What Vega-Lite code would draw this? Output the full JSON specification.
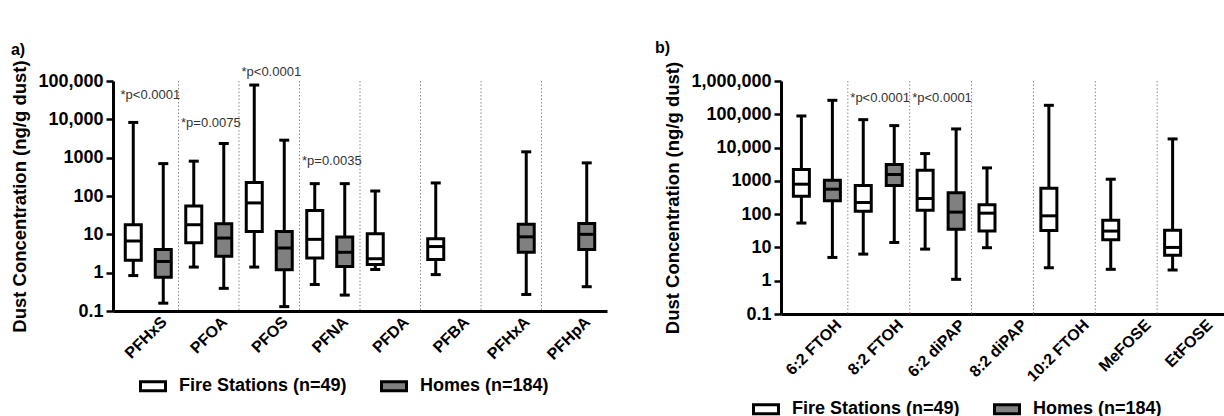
{
  "$schema": "https://vega.github.io/schema/vega-lite/v6.json",
  "background": "white",
  "padding": {"left": 10, "top": 40, "right": 0, "bottom": 0},
  "spacing": 47,
  "config": {
    "font": "Liberation Sans",
    "view": {"stroke": null},
    "axis": {"domainColor": "black", "tickColor": "black", "labelColor": "black", "titleColor": "black", "grid": false},
    "legend": {"labelColor": "black", "labelLimit": 0}
  },
  "resolve": {"legend": {"fill": "independent"}, "scale": {"x": "independent", "y": "independent", "xOffset": "independent"}},
  "datasets": {
    "boxA": [
      {"compound": "PFHxS", "group": "Fire Stations", "min": 0.84, "q1": 2.1, "median": 6.7, "q3": 17.8, "max": 8300},
      {"compound": "PFHxS", "group": "Homes", "min": 0.16, "q1": 0.76, "median": 1.96, "q3": 4.0, "max": 700},
      {"compound": "PFOA", "group": "Fire Stations", "min": 1.4, "q1": 6.0, "median": 17.8, "q3": 55, "max": 810},
      {"compound": "PFOA", "group": "Homes", "min": 0.39, "q1": 2.7, "median": 8.0, "q3": 18.9, "max": 2340},
      {"compound": "PFOS", "group": "Fire Stations", "min": 1.4, "q1": 11.9, "median": 66, "q3": 224, "max": 78500},
      {"compound": "PFOS", "group": "Homes", "min": 0.13, "q1": 1.19, "median": 4.4, "q3": 11.9, "max": 2860},
      {"compound": "PFNA", "group": "Fire Stations", "min": 0.49, "q1": 2.4, "median": 7.4, "q3": 42, "max": 210},
      {"compound": "PFNA", "group": "Homes", "min": 0.26, "q1": 1.45, "median": 3.4, "q3": 8.5, "max": 210},
      {"compound": "PFDA", "group": "Fire Stations", "min": 1.21, "q1": 1.64, "median": 2.3, "q3": 10.4, "max": 135},
      {"compound": "PFBA", "group": "Fire Stations", "min": 0.89, "q1": 2.2, "median": 4.8, "q3": 7.7, "max": 219},
      {"compound": "PFHxA", "group": "Homes", "min": 0.27, "q1": 3.4, "median": 8.6, "q3": 18.2, "max": 1420},
      {"compound": "PFHpA", "group": "Homes", "min": 0.43, "q1": 4.0, "median": 10, "q3": 19.3, "max": 731}
    ],
    "sepA": [
      {"compound": "PFOA"}, {"compound": "PFOS"}, {"compound": "PFNA"}, {"compound": "PFDA"},
      {"compound": "PFBA"}, {"compound": "PFHxA"}, {"compound": "PFHpA"}
    ],
    "annA": [
      {"compound": "PFHxS", "label": "*p<0.0001", "y": 43000},
      {"compound": "PFOA", "label": "*p=0.0075", "y": 8100},
      {"compound": "PFOS", "label": "*p<0.0001", "y": 172000},
      {"compound": "PFNA", "label": "*p=0.0035", "y": 805}
    ],
    "boxB": [
      {"compound": "6:2 FTOH", "group": "Fire Stations", "min": 54, "q1": 347, "median": 794, "q3": 2190, "max": 89000},
      {"compound": "6:2 FTOH", "group": "Homes", "min": 5.0, "q1": 251, "median": 562, "q3": 1047, "max": 263000},
      {"compound": "8:2 FTOH", "group": "Fire Stations", "min": 6.3, "q1": 123, "median": 224, "q3": 724, "max": 69000},
      {"compound": "8:2 FTOH", "group": "Homes", "min": 14.1, "q1": 724, "median": 1550, "q3": 3090, "max": 45700},
      {"compound": "6:2 diPAP", "group": "Fire Stations", "min": 8.9, "q1": 132, "median": 295, "q3": 2090, "max": 6600},
      {"compound": "6:2 diPAP", "group": "Homes", "min": 1.1, "q1": 35, "median": 115, "q3": 437, "max": 36300},
      {"compound": "8:2 diPAP", "group": "Fire Stations", "min": 9.8, "q1": 31, "median": 107, "q3": 191, "max": 2450},
      {"compound": "10:2 FTOH", "group": "Fire Stations", "min": 2.45, "q1": 32, "median": 89, "q3": 603, "max": 186000},
      {"compound": "MeFOSE", "group": "Fire Stations", "min": 2.2, "q1": 17, "median": 31, "q3": 66, "max": 1120},
      {"compound": "EtFOSE", "group": "Fire Stations", "min": 2.1, "q1": 5.8, "median": 10, "q3": 33, "max": 18200}
    ],
    "sepB": [
      {"compound": "8:2 FTOH"}, {"compound": "6:2 diPAP"}, {"compound": "8:2 diPAP"},
      {"compound": "10:2 FTOH"}, {"compound": "MeFOSE"}, {"compound": "EtFOSE"}
    ],
    "annB": [
      {"compound": "8:2 FTOH", "label": "*p<0.0001", "y": 316000},
      {"compound": "6:2 diPAP", "label": "*p<0.0001", "y": 316000}
    ]
  },
  "hconcat": [
    {
      "title": {"text": "a)", "anchor": "start", "fontSize": 16, "fontWeight": "bold", "offset": 2, "color": "black"},
      "width": 494,
      "height": 230,
      "layer": [
        {
          "data": {"name": "sepA"},
          "mark": {"type": "rule", "strokeDash": [1.5, 2], "color": "#8a8a8a", "strokeWidth": 1},
          "encoding": {
            "x": {"field": "compound", "type": "nominal", "bandPosition": 0, "title": null,
                  "scale": {"domain": ["PFHxS","PFOA","PFOS","PFNA","PFDA","PFBA","PFHxA","PFHpA"], "paddingInner": 0, "paddingOuter": 0.083}}
          }
        },
        {
          "data": {"name": "boxA"},
          "mark": {"type": "rule", "color": "black", "strokeWidth": 3},
          "encoding": {
            "x": {"field": "compound", "type": "nominal", "title": null},
            "xOffset": {"field": "group", "type": "nominal", "scale": {"domain": ["Fire Stations", "Homes"], "paddingInner": 0.4667, "paddingOuter": 0.2417}},
            "y": {"field": "min", "type": "quantitative", "title": "Dust Concentration (ng/g dust)",
                  "scale": {"type": "log", "domain": [0.1, 100000], "nice": false},
                  "axis": {"values": [0.1, 1, 10, 100, 1000, 10000, 100000],
                           "labelExpr": "datum.value >= 10000 ? format(datum.value, ',') : format(datum.value, '~g')",
                           "labelFontSize": 18, "labelFontWeight": "bold", "labelPadding": 3,
                           "tickSize": 7, "tickWidth": 2.5, "domainWidth": 3,
                           "titleFontSize": 18.5, "titleFontWeight": "bold", "titlePadding": 8}},
            "y2": {"field": "max"}
          }
        },
        {
          "data": {"name": "boxA"},
          "mark": {"type": "tick", "color": "black", "size": 10, "thickness": 3, "opacity": 1},
          "encoding": {
            "x": {"field": "compound", "type": "nominal", "title": null},
            "xOffset": {"field": "group", "type": "nominal"},
            "y": {"field": "min", "type": "quantitative"}
          }
        },
        {
          "data": {"name": "boxA"},
          "mark": {"type": "tick", "color": "black", "size": 10, "thickness": 3, "opacity": 1},
          "encoding": {
            "x": {"field": "compound", "type": "nominal", "title": null},
            "xOffset": {"field": "group", "type": "nominal"},
            "y": {"field": "max", "type": "quantitative"}
          }
        },
        {
          "data": {"name": "boxA"},
          "mark": {"type": "bar", "stroke": "black", "strokeWidth": 3, "opacity": 1},
          "encoding": {
            "x": {"field": "compound", "type": "nominal", "title": null,
                  "axis": {"labelAngle": -45, "labelFontSize": 16, "labelFontWeight": "bold", "ticks": false, "domainWidth": 3, "labelPadding": 8, "labelOffset": 16}},
            "xOffset": {"field": "group", "type": "nominal"},
            "y": {"field": "q1", "type": "quantitative"},
            "y2": {"field": "q3"},
            "fill": {"field": "group", "type": "nominal",
                     "scale": {"domain": ["Fire Stations", "Homes"], "range": ["#ffffff", "#808080"]},
                     "legend": {"orient": "none", "legendX": 26, "legendY": 291, "direction": "horizontal", "title": null,
                                "labelExpr": "datum.label == 'Fire Stations' ? 'Fire Stations (n=49)' : 'Homes (n=184)'",
                                "labelFontSize": 18, "labelFontWeight": "bold", "labelLimit": 0, "symbolType": "M-1,-0.36H1V0.36H-1Z",
                                "symbolSize": 625, "symbolStrokeColor": "black", "symbolStrokeWidth": 3,
                                "labelOffset": 12, "columnPadding": 28, "padding": 0}}
          }
        },
        {
          "data": {"name": "boxA"},
          "mark": {"type": "tick", "color": "black", "size": 16, "thickness": 3, "opacity": 1},
          "encoding": {
            "x": {"field": "compound", "type": "nominal", "title": null},
            "xOffset": {"field": "group", "type": "nominal"},
            "y": {"field": "median", "type": "quantitative"}
          }
        },
        {
          "data": {"name": "annA"},
          "mark": {"type": "text", "align": "left", "baseline": "middle", "dx": 2.5, "fontSize": 13, "color": "#333333"},
          "encoding": {
            "x": {"field": "compound", "type": "nominal", "bandPosition": 0, "title": null},
            "y": {"field": "y", "type": "quantitative"},
            "text": {"field": "label"}
          }
        }
      ]
    },
    {
      "title": {"text": "b)", "anchor": "start", "fontSize": 16, "fontWeight": "bold", "offset": 5, "dx": -9, "color": "black"},
      "width": 443,
      "height": 233,
      "layer": [
        {
          "data": {"name": "sepB"},
          "mark": {"type": "rule", "strokeDash": [1.5, 2], "color": "#8a8a8a", "strokeWidth": 1},
          "encoding": {
            "x": {"field": "compound", "type": "nominal", "bandPosition": 0, "title": null,
                  "scale": {"domain": ["6:2 FTOH","8:2 FTOH","6:2 diPAP","8:2 diPAP","10:2 FTOH","MeFOSE","EtFOSE"], "paddingInner": 0, "paddingOuter": 0.08}}
          }
        },
        {
          "data": {"name": "boxB"},
          "mark": {"type": "rule", "color": "black", "strokeWidth": 3},
          "encoding": {
            "x": {"field": "compound", "type": "nominal", "title": null},
            "xOffset": {"field": "group", "type": "nominal", "scale": {"domain": ["Fire Stations", "Homes"], "paddingInner": 0.484, "paddingOuter": 0.24}},
            "y": {"field": "min", "type": "quantitative", "title": "Dust Concentration (ng/g dust)",
                  "scale": {"type": "log", "domain": [0.1, 1000000], "nice": false},
                  "axis": {"values": [0.1, 1, 10, 100, 1000, 10000, 100000, 1000000],
                           "labelExpr": "datum.value >= 10000 ? format(datum.value, ',') : format(datum.value, '~g')",
                           "labelFontSize": 18, "labelFontWeight": "bold", "labelPadding": 3,
                           "tickSize": 7, "tickWidth": 2.5, "domainWidth": 3,
                           "titleFontSize": 18.5, "titleFontWeight": "bold", "titlePadding": 8}},
            "y2": {"field": "max"}
          }
        },
        {
          "data": {"name": "boxB"},
          "mark": {"type": "tick", "color": "black", "size": 10, "thickness": 3, "opacity": 1},
          "encoding": {
            "x": {"field": "compound", "type": "nominal", "title": null},
            "xOffset": {"field": "group", "type": "nominal"},
            "y": {"field": "min", "type": "quantitative"}
          }
        },
        {
          "data": {"name": "boxB"},
          "mark": {"type": "tick", "color": "black", "size": 10, "thickness": 3, "opacity": 1},
          "encoding": {
            "x": {"field": "compound", "type": "nominal", "title": null},
            "xOffset": {"field": "group", "type": "nominal"},
            "y": {"field": "max", "type": "quantitative"}
          }
        },
        {
          "data": {"name": "boxB"},
          "mark": {"type": "bar", "stroke": "black", "strokeWidth": 3, "opacity": 1},
          "encoding": {
            "x": {"field": "compound", "type": "nominal", "title": null,
                  "axis": {"labelAngle": -45, "labelFontSize": 16, "labelFontWeight": "bold", "ticks": false, "domainWidth": 3, "labelPadding": 8, "labelOffset": 22}},
            "xOffset": {"field": "group", "type": "nominal"},
            "y": {"field": "q1", "type": "quantitative"},
            "y2": {"field": "q3"},
            "fill": {"field": "group", "type": "nominal",
                     "scale": {"domain": ["Fire Stations", "Homes"], "range": ["#ffffff", "#808080"]},
                     "legend": {"orient": "none", "legendX": -29, "legendY": 314, "direction": "horizontal", "title": null,
                                "labelExpr": "datum.label == 'Fire Stations' ? 'Fire Stations (n=49)' : 'Homes (n=184)'",
                                "labelFontSize": 18, "labelFontWeight": "bold", "labelLimit": 0, "symbolType": "M-1,-0.36H1V0.36H-1Z",
                                "symbolSize": 625, "symbolStrokeColor": "black", "symbolStrokeWidth": 3,
                                "labelOffset": 12, "columnPadding": 28, "padding": 0}}
          }
        },
        {
          "data": {"name": "boxB"},
          "mark": {"type": "tick", "color": "black", "size": 16, "thickness": 3, "opacity": 1},
          "encoding": {
            "x": {"field": "compound", "type": "nominal", "title": null},
            "xOffset": {"field": "group", "type": "nominal"},
            "y": {"field": "median", "type": "quantitative"}
          }
        },
        {
          "data": {"name": "annB"},
          "mark": {"type": "text", "align": "left", "baseline": "middle", "dx": 2.5, "fontSize": 13, "color": "#333333"},
          "encoding": {
            "x": {"field": "compound", "type": "nominal", "bandPosition": 0, "title": null},
            "y": {"field": "y", "type": "quantitative"},
            "text": {"field": "label"}
          }
        }
      ]
    }
  ]
}
